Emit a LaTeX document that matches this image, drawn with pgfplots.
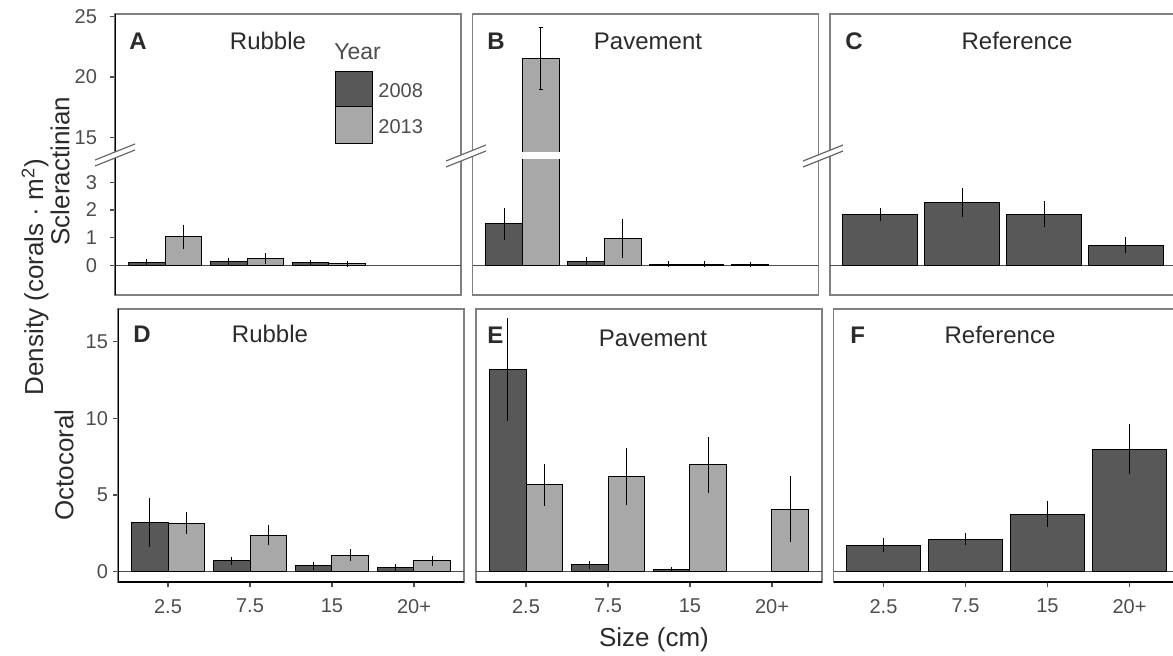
\documentclass[border=0pt]{standalone}
\usepackage{pgfplots}
\usepackage{pgfplotstable}
\pgfplotsset{compat=1.18}
\usepackage{fontspec}
\setmainfont{Liberation Sans}
\definecolor{dark}{HTML}{585858}
\definecolor{light}{HTML}{A8A8A8}
\definecolor{framegray}{HTML}{808080}
\definecolor{tickgray}{HTML}{4D4D4D}
\definecolor{txt}{HTML}{2B2B2B}

% ---- data: x (1=2.5, 2=7.5, 3=15, 4=20+), mean density, SE
\pgfplotstableread{
x y e
1 0.12 0.03
2 0.14 0.05
3 0.09 0.03
}\Aeight
\pgfplotstableread{
x y e
1 1.03 0.35
2 0.25 0.10
3 0.05 0.02
}\Athirteen
\pgfplotstableread{
x y e
1 1.50 0.48
2 0.15 0.05
3 0.04 0.02
4 0.04 0.01
}\Beight
\pgfplotstableread{
x y e
1 21.5 2.55
2 0.97 0.60
3 0.04 0.03
}\Bthirteen
\pgfplotstableread{
x y e
1 1.84 0.15
2 2.27 0.43
3 1.85 0.37
4 0.73 0.20
}\Cref
\pgfplotstableread{
x y e
1 3.20 1.43
2 0.70 0.12
3 0.39 0.10
4 0.28 0.06
}\Deight
\pgfplotstableread{
x y e
1 3.16 0.55
2 2.39 0.52
3 1.09 0.22
4 0.70 0.20
}\Dthirteen
\pgfplotstableread{
x y e
1 13.2 3.2
2 0.44 0.08
3 0.12 0.0
}\Eeight
\pgfplotstableread{
x y e
1 5.66 1.20
2 6.20 1.68
3 6.96 1.65
4 4.07 2.00
}\Ethirteen
\pgfplotstableread{
x y e
1 1.74 0.28
2 2.13 0.25
3 3.76 0.70
4 8.00 1.45
}\Fref

\tikzset{
 zline/.style={black!70, line width=0.7pt},
 thickax/.style={black, line width=1.3pt},
}
\pgfplotsset{
 b08/.style={ybar, bar width=0.45, bar shift=-0.225, fill=dark, draw=black, line width=0.5pt},
 b13/.style={ybar, bar width=0.45, bar shift=0.225, fill=light, draw=black, line width=0.5pt},
 bref/.style={ybar, bar width=0.91, bar shift=0, fill=dark, draw=black, line width=0.5pt},
 eb/.style={draw=none, mark=none, forget plot, error bars/.cd, y dir=both, y explicit,
   error bar style={draw=black, line width=0.5pt}, error mark=-,
   error mark options={draw=black, mark size=1.2pt, line width=0.5pt}},
 seg/.style={black, line width=0.5pt, mark=-, mark size=1.2pt, forget plot},
 panel/.style={scale only axis, width=173pt, anchor=south west, xmin=0.39, xmax=4.61,
   axis line style={draw=framegray, line width=0.7pt},
   tick align=outside, tick pos=left, major tick length=2.5pt,
   every tick/.style={draw=tickgray, line width=0.6pt},
   ticklabel style={font=\fontsize{10}{12}\selectfont, text=tickgray},
   xticklabel style={yshift=-2.5pt},
   xtick=\empty, ytick=\empty,
   /pgf/number format/assume math mode=true},
 toprow/.style={panel, height=140.5pt, ymin=-1.07, ymax=25.2,
   yticklabel style={xshift=-3pt},
   y coord trafo/.code={\pgfmathparse{(##1>10)*(4.62+(##1-15)*0.4368)+(##1<=10)*(##1)}}},
 botrow/.style={panel, height=136.5pt, ymin=-0.67, ymax=17.13,
   yticklabel style={xshift=1pt},
   xtick={1,2,3,4}, xticklabels={2.5,7.5,15,20+}},
}
\newcommand\brk[2]{%
 \begin{scope}[shift={(#1pt,#2pt)}]
  \fill[white] (-10pt,-5.5pt) -- (10pt,2.5pt) -- (10pt,5.5pt) -- (-10pt,-2.5pt) -- cycle;
  \draw[black!60, line width=0.6pt] (-10pt,-5.5pt) -- (10pt,2.5pt);
  \draw[black!60, line width=0.6pt] (-10pt,-2.5pt) -- (10pt,5.5pt);
 \end{scope}}

\begin{document}
\begin{tikzpicture}
% ---------------- A: Scleractinian, Rubble
\begin{axis}[toprow, at={(57.5pt,180pt)}, ytick={0,1,2,3,15,20,25}, yticklabels={0,1,2,3,15,20,25}]
\draw[zline] (axis cs:0.39,0) -- (axis cs:4.61,0);
\addplot[b08] table[x=x,y=y] {\Aeight};
\addplot[b13] table[x=x,y=y] {\Athirteen};
\addplot[eb] table[x expr=\thisrow{x}-0.225,y=y,y error=e] {\Aeight};
\addplot[eb] table[x expr=\thisrow{x}+0.225,y=y,y error=e] {\Athirteen};
\draw[thickax] (rel axis cs:0,0) -- (rel axis cs:0,1);
\end{axis}
% ---------------- B: Scleractinian, Pavement
\begin{axis}[toprow, at={(236.25pt,180pt)}]
\draw[zline] (axis cs:0.39,0) -- (axis cs:4.61,0);
\addplot[b08] table[x=x,y=y] {\Beight};
\addplot[b13] table[x=x,y=y] {\Bthirteen};
\fill[white] (axis cs:0.985,3.85) rectangle (axis cs:1.465,4.1);
\addplot[eb] table[x expr=\thisrow{x}-0.225,y=y,y error=e] {\Beight};
\addplot[eb] table[x expr=\thisrow{x}+0.225,y=y,y error=e] {
x y e
2 0.97 0.60
3 0.04 0.03
};
% 2013, 2.5 cm: 21.5 +/- 2.55 (drawn from its ends across the broken axis)
\addplot[seg] coordinates {(1.225,18.95) (1.225,24.05)};
\end{axis}
% ---------------- C: Scleractinian, Reference
\begin{axis}[toprow, at={(415pt,180pt)}]
\draw[zline] (axis cs:0.39,0) -- (axis cs:4.61,0);
\addplot[bref] table[x=x,y=y] {\Cref};
\addplot[eb] table[x=x,y=y,y error=e] {\Cref};
\end{axis}
% ---------------- D: Octocoral, Rubble
\begin{axis}[botrow, at={(59pt,36.5pt)}, ytick={0,5,10,15}, yticklabels={0,5,10,15}]
\draw[zline] (axis cs:0.39,0) -- (axis cs:4.61,0);
\addplot[b08] table[x=x,y=y] {\Deight};
\addplot[b13] table[x=x,y=y] {\Dthirteen};
\addplot[eb] table[x expr=\thisrow{x}-0.225,y=y,y error=e] {\Deight};
\addplot[eb] table[x expr=\thisrow{x}+0.225,y=y,y error=e] {\Dthirteen};
\draw[thickax] (rel axis cs:0,1) -- (rel axis cs:0,0) -- (rel axis cs:1,0);
\end{axis}
% ---------------- E: Octocoral, Pavement
\begin{axis}[botrow, at={(238pt,36.5pt)}]
\draw[zline] (axis cs:0.39,0) -- (axis cs:4.61,0);
\addplot[b08] table[x=x,y=y] {\Eeight};
\addplot[b13] table[x=x,y=y] {\Ethirteen};
\addplot[eb] table[x expr=\thisrow{x}-0.225,y=y,y error=e] {\Eeight};
\addplot[eb] table[x expr=\thisrow{x}+0.225,y=y,y error=e] {\Ethirteen};
\draw[thickax] (rel axis cs:0,0) -- (rel axis cs:1,0);
\end{axis}
% ---------------- F: Octocoral, Reference
\begin{axis}[botrow, at={(416.75pt,36.5pt)}]
\draw[zline] (axis cs:0.39,0) -- (axis cs:4.61,0);
\addplot[bref] table[x=x,y=y] {\Fref};
\addplot[eb] table[x=x,y=y,y error=e] {\Fref};
\draw[thickax] (rel axis cs:0,0) -- (rel axis cs:1,0);
\end{axis}
% ---------------- breaks
\brk{57.5}{250}
\brk{233}{249.5}
\brk{411.5}{249.5}
% ---------------- panel texts
\begin{scope}[every node/.style={text=txt, font=\fontsize{12}{14}\selectfont, anchor=base, inner sep=0pt}]
\node[anchor=base west, font=\fontsize{12}{14}\selectfont\bfseries] at (64.5pt,302.5pt) {A};
\node at (134pt,302.5pt) {Rubble};
\node[anchor=base west, font=\fontsize{12}{14}\selectfont\bfseries] at (243.5pt,302.5pt) {B};
\node at (324pt,302.5pt) {Pavement};
\node[anchor=base west, font=\fontsize{12}{14}\selectfont\bfseries] at (422.5pt,302.5pt) {C};
\node at (508.5pt,302.5pt) {Reference};
\node[anchor=base west, font=\fontsize{12}{14}\selectfont\bfseries] at (66.5pt,156.5pt) {D};
\node at (135pt,156.5pt) {Rubble};
\node[anchor=base west, font=\fontsize{12}{14}\selectfont\bfseries] at (243.5pt,156pt) {E};
\node at (326.5pt,154.5pt) {Pavement};
\node[anchor=base west, font=\fontsize{12}{14}\selectfont\bfseries] at (425pt,156pt) {F};
\node at (500pt,156pt) {Reference};
\end{scope}
% ---------------- legend
\filldraw[fill=dark, draw=black, line width=0.5pt] (167.5pt,274pt) rectangle (186pt,291.5pt);
\filldraw[fill=light, draw=black, line width=0.5pt] (167.5pt,256pt) rectangle (186pt,274pt);
\node[anchor=west, text=tickgray, font=\fontsize{11.5}{13}\selectfont, inner sep=0pt] at (167pt,301.5pt) {Year};
\node[anchor=west, text=tickgray, font=\fontsize{10}{12}\selectfont, inner sep=0pt] at (189pt,282pt) {2008};
\node[anchor=west, text=tickgray, font=\fontsize{10}{12}\selectfont, inner sep=0pt] at (189pt,264pt) {2013};
% ---------------- axis titles
\begin{scope}[every node/.style={text=txt, font=\fontsize{13}{15}\selectfont}]
\node[rotate=90] at (30pt,242pt) {Scleractinian};
\node[rotate=90] at (32pt,95pt) {Octocoral};
\node[rotate=90] at (17.5pt,189pt) {Density (corals · m\textsuperscript{2})};
\node at (327pt,7.5pt) {Size (cm)};
\end{scope}
\pgfresetboundingbox
\path[use as bounding box] (0pt,0pt) rectangle (586.5pt,327.5pt);
\end{tikzpicture}
\end{document}
